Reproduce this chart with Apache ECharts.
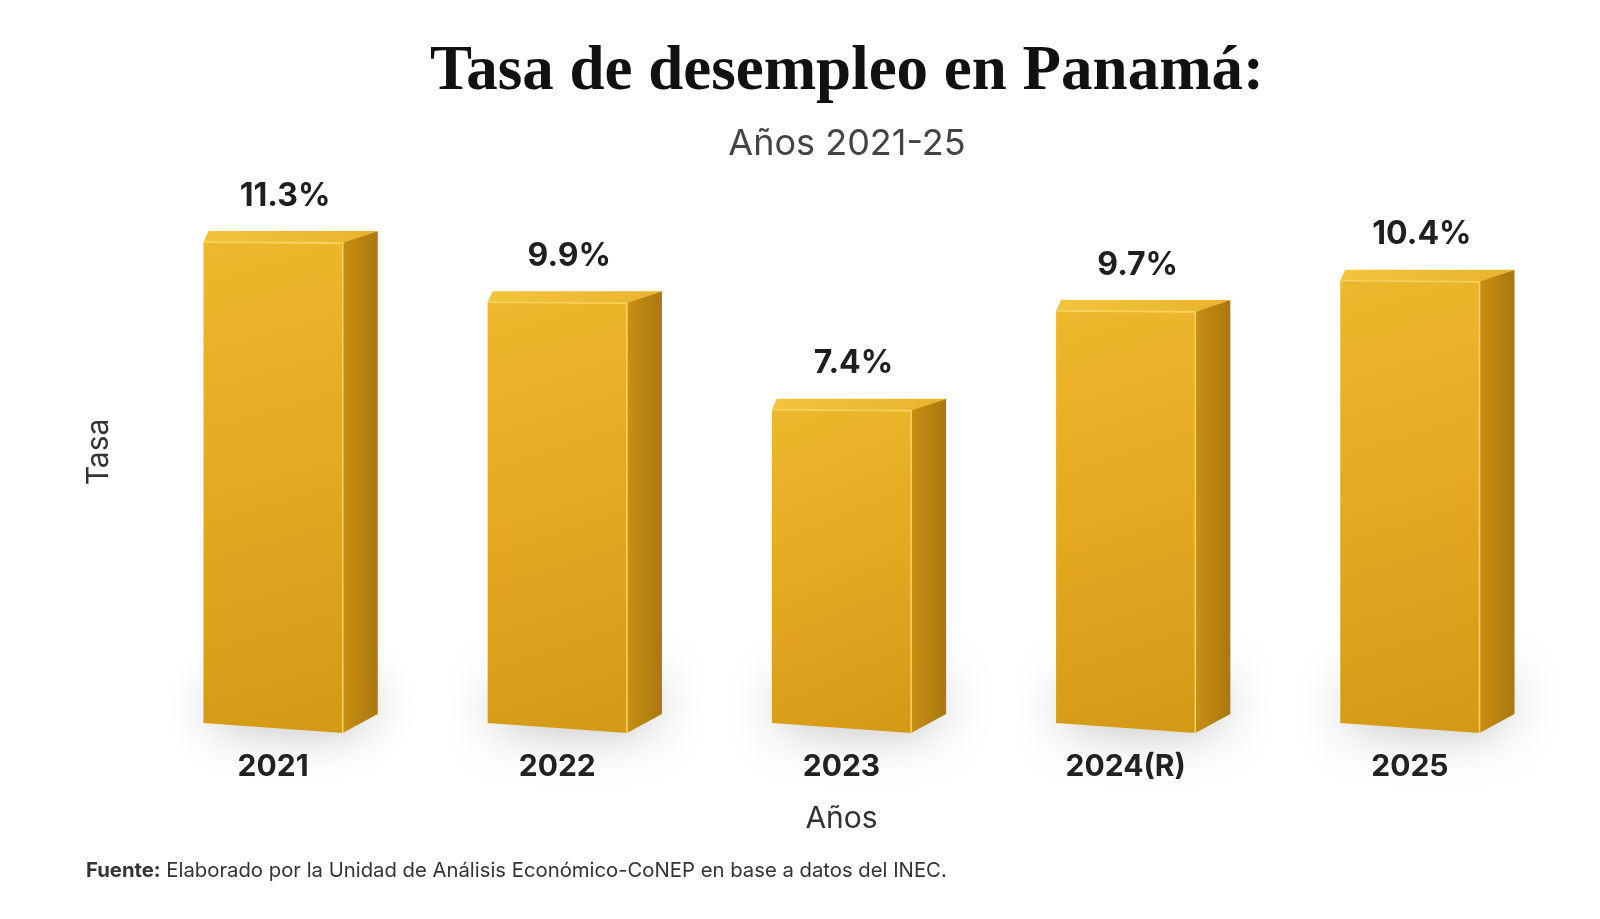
<!DOCTYPE html>
<html>
<head>
<meta charset="utf-8">
<script src="https://cdn.jsdelivr.net/npm/echarts@6/dist/echarts.min.js"></script>
<style>
html,body{margin:0;padding:0;background:#fff;}
#chart{width:1600px;height:919px;}
</style>
</head>
<body>
<div id="chart"></div>
<script>
const categories = ['2021', '2022', '2023', '2024(R)', '2025'];
const tasa = [11.3, 9.9, 7.4, 9.7, 10.4];
const valueLabels = ['11.3%', '9.9%', '7.4%', '9.7%', '10.4%'];

const chart = echarts.init(document.getElementById('chart'));
const SANS = 'Inter, "Noto Sans", sans-serif';

function renderBar(params, api) {
  const idx = api.value(0);
  const val = api.value(1);
  const top = api.coord([idx, val]);
  const base = api.coord([idx, 0]);
  const band = api.size([1, 0])[0];
  const w = band * 0.49;
  const dx = 35;
  const dy = 11;
  const x0 = top[0] - w / 2;
  const x1 = top[0] + w / 2;
  const yT = top[1];
  const yB = base[1];
  return {
    type: 'group',
    children: [
      { // soft ground shadow (hidden body, only blur shows)
        type: 'polygon',
        shape: { points: [[x0 + 10, yB - 40], [x1 + dx - 8, yB - 46], [x1 + dx - 8, yB - 20], [x1, yB - 2], [x0 + 10, yB - 8]] },
        style: { fill: 'rgba(60,60,60,0.6)', shadowBlur: 50, shadowColor: 'rgba(0,0,0,0.5)', shadowOffsetX: 0, shadowOffsetY: 4 },
        silent: true
      },
      { // side face
        type: 'polygon',
        shape: { points: [[x1, yT], [x1 + dx, yT - dy], [x1 + dx, yB - 14], [x1, yB + 5]] },
        style: {
          fill: new echarts.graphic.LinearGradient(0, 0, 1, 0, [
            { offset: 0, color: '#C98E14' },
            { offset: 1, color: '#A9780E' }
          ])
        }
      },
      { // front face
        type: 'polygon',
        shape: { points: [[x0, yT], [x1, yT + 1], [x1, yB + 5], [x0, yB - 5]] },
        style: {
          fill: new echarts.graphic.LinearGradient(0, 0, 1, 1, [
            { offset: 0, color: '#EDB82D' },
            { offset: 0.55, color: '#E2A71F' },
            { offset: 1, color: '#D39915' }
          ])
        }
      },
      { // top face
        type: 'polygon',
        shape: { points: [[x0, yT], [x0 + 5, yT - dy], [x1 + dx, yT - dy], [x1, yT + 1]] },
        style: {
          fill: new echarts.graphic.LinearGradient(0, 0, 1, 0, [
            { offset: 0, color: '#F2C43C' },
            { offset: 1, color: '#E9B42D' }
          ])
        }
      },
      { // edge highlights
        type: 'polyline',
        shape: { points: [[x0, yT], [x1, yT + 1], [x1, yB + 5]] },
        style: { stroke: '#F7D262', lineWidth: 1.6, fill: null }
      },
      { // value label
        type: 'text',
        style: {
          text: valueLabels[idx],
          x: top[0] + 12,
          y: yT - 46,
          textAlign: 'center',
          textVerticalAlign: 'middle',
          font: 'bold 32px ' + SANS,
          fill: '#1f1f1f'
        }
      }
    ]
  };
}

const option = {
  backgroundColor: '#ffffff',
  animation: false,
  title: [
    {
      text: 'Tasa de desempleo en Panamá:',
      left: 842,
      textAlign: 'center',
      top: 36,
      textStyle: { fontFamily: '"Liberation Serif", "DejaVu Serif", serif', fontWeight: 'bold', fontSize: 63, color: '#111' }
    },
    {
      text: 'Años 2021-25',
      left: 842,
      textAlign: 'center',
      top: 121,
      textStyle: { fontFamily: SANS, fontWeight: 'normal', fontSize: 36, color: '#444' }
    },
    {
      text: '{b|Fuente:} Elaborado por la Unidad de Análisis Económico-CoNEP en base a datos del INEC.',
      left: 81,
      top: 856,
      textStyle: {
        fontFamily: SANS, fontSize: 20.3, color: '#333', fontWeight: 'normal',
        rich: { b: { fontFamily: SANS, fontSize: 20.3, fontWeight: 'bold', color: '#333' } }
      }
    }
  ],
  grid: { left: 131, right: 48, top: 212, bottom: 191 },
  xAxis: {
    type: 'category',
    data: categories,
    name: 'Años',
    nameLocation: 'middle',
    nameGap: 76,
    nameTextStyle: { fontFamily: SANS, fontSize: 30, color: '#333' },
    axisLine: { show: false },
    axisTick: { show: false },
    axisLabel: { margin: 24, fontFamily: SANS, fontSize: 30, fontWeight: 'bold', color: '#222' }
  },
  yAxis: {
    type: 'value',
    min: 0,
    max: 12,
    name: 'Tasa',
    nameLocation: 'middle',
    nameGap: 17,
    nameRotate: 90,
    nameTextStyle: { fontFamily: SANS, fontSize: 30, color: '#333', padding: [0, 0, 0, 36] },
    axisLine: { show: false },
    axisTick: { show: false },
    axisLabel: { show: false },
    splitLine: { show: false }
  },
  series: [{
    type: 'custom',
    renderItem: renderBar,
    data: tasa.map((v, i) => [i, v]),
    encode: { x: 0, y: 1 },
    clip: false
  }]
};
chart.setOption(option);
</script>
</body>
</html>
